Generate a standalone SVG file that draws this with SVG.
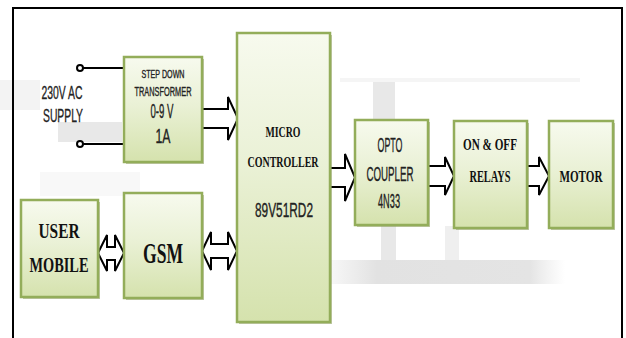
<svg xmlns="http://www.w3.org/2000/svg" width="626" height="338" viewBox="0 0 626 338">
<defs>
<linearGradient id="g" x1="0" y1="0" x2="0" y2="1">
<stop offset="0" stop-color="#f7faee"/>
<stop offset="0.45" stop-color="#eaf1d6"/>
<stop offset="1" stop-color="#d5e2ad"/>
</linearGradient>
<linearGradient id="wg" x1="0" y1="0" x2="1" y2="0">
<stop offset="0" stop-color="#e4e4e4" stop-opacity="0.3"/>
<stop offset="0.2" stop-color="#e2e2e2"/>
<stop offset="0.85" stop-color="#e4e4e4"/>
<stop offset="1" stop-color="#e8e8e8" stop-opacity="0"/>
</linearGradient>
<style>
.box{fill:url(#g);stroke:#93ad5a;stroke-width:2.5}
.sh{fill:#8c9c62;opacity:0.55}
.arr{fill:#fff;stroke:#000;stroke-width:2;stroke-linejoin:miter}
.wire{stroke:#000;stroke-width:2.2;fill:none}
.n{font-family:"Liberation Sans",Arial,sans-serif;fill:#222;stroke:#222;stroke-width:0.35}
.s{font-family:"Liberation Serif","Times New Roman",serif;font-weight:bold;fill:#111}
.wm{fill:#e8e8e8}
</style>
</defs>
<rect width="626" height="338" fill="#fff"/>
<g id="watermark">
<rect class="wm" x="58" y="122" width="64" height="20"/>
<rect class="wm" x="0" y="80" width="40" height="30" opacity="0.5"/>
<rect class="wm" x="40" y="172" width="100" height="24" opacity="0.3"/>
<rect x="330" y="260" width="235" height="24" fill="url(#wg)"/>
<rect class="wm" x="381" y="226" width="15" height="34"/>
<rect class="wm" x="445" y="226" width="14" height="34" opacity="0.7"/>
<rect class="wm" x="373" y="82" width="22" height="38"/>
<rect x="340" y="78" width="240" height="4" fill="#f5f5f5"/>
</g>
<rect x="13" y="8" width="609" height="340" fill="none" stroke="#000" stroke-width="2"/>
<g id="connectors">
<line class="wire" x1="83" y1="68" x2="124" y2="68"/>
<line class="wire" x1="83" y1="144" x2="124" y2="144"/>
<circle cx="80" cy="68" r="3" fill="#fff" stroke="#000" stroke-width="2"/>
<circle cx="80" cy="144" r="3" fill="#fff" stroke="#000" stroke-width="2"/>
<polyline class="arr" points="202,109 228,109 228,97 238,118.5 228,140 228,128 202,128"/>
<polyline class="arr" points="330,168 345,168 345,154 355,177.5 345,201 345,187 330,187"/>
<polyline class="arr" points="428,166 445,166 445,157 454,176 445,195 445,186 428,186"/>
<polyline class="arr" points="527,166 539,166 539,157 549,176 539,195 539,186 527,186"/>
<polygon class="arr" points="98,253 107,235 107,247 115,247 115,235 124,253 115,271 115,260 107,260 107,271"/>
<polygon class="arr" points="202,251 211,232 211,244 228,244 228,232 237,251 228,270 228,258 211,258 211,270"/>
</g>
<g id="supply">
<text class="n" x="62" y="99" font-size="19" text-anchor="middle" textLength="41" lengthAdjust="spacingAndGlyphs">230V AC</text>
<text class="n" x="63" y="122" font-size="19" text-anchor="middle" textLength="40" lengthAdjust="spacingAndGlyphs">SUPPLY</text>
</g>
<g id="transformer">
<rect class="sh" x="126" y="59" width="78" height="105"/>
<rect class="box" x="124" y="57" width="78" height="105"/>
<text class="n" x="163" y="78" font-size="11" text-anchor="middle" textLength="43" lengthAdjust="spacingAndGlyphs">STEP DOWN</text>
<text class="n" x="163" y="96" font-size="12.5" text-anchor="middle" textLength="57" lengthAdjust="spacingAndGlyphs">TRANSFORMER</text>
<text class="n" x="162" y="118" font-size="20" text-anchor="middle" textLength="23" lengthAdjust="spacingAndGlyphs">0-9 V</text>
<text class="n" x="163" y="143" font-size="21" text-anchor="middle" textLength="15" lengthAdjust="spacingAndGlyphs">1A</text>
</g>
<g id="micro">
<rect class="sh" x="239" y="35" width="93" height="289"/>
<rect class="box" x="237" y="33" width="93" height="289"/>
<text class="s" x="283" y="137" font-size="14" text-anchor="middle" textLength="35" lengthAdjust="spacingAndGlyphs">MICRO</text>
<text class="s" x="283" y="167" font-size="15" text-anchor="middle" textLength="71" lengthAdjust="spacingAndGlyphs">CONTROLLER</text>
<text class="n" x="284" y="217" font-size="20" text-anchor="middle" textLength="58" lengthAdjust="spacingAndGlyphs">89V51RD2</text>
</g>
<g id="opto">
<rect class="sh" x="357" y="122" width="73" height="105"/>
<rect class="box" x="355" y="120" width="73" height="105"/>
<text class="n" x="390" y="152" font-size="20" text-anchor="middle" textLength="25" lengthAdjust="spacingAndGlyphs">OPTO</text>
<text class="n" x="390" y="181" font-size="20" text-anchor="middle" textLength="47" lengthAdjust="spacingAndGlyphs">COUPLER</text>
<text class="n" x="389" y="208" font-size="20" text-anchor="middle" textLength="22" lengthAdjust="spacingAndGlyphs">4N33</text>
</g>
<g id="relays">
<rect class="sh" x="456" y="123" width="73" height="107"/>
<rect class="box" x="454" y="121" width="73" height="107"/>
<text class="s" x="490" y="150" font-size="17" font-weight="normal" text-anchor="middle" textLength="54" lengthAdjust="spacingAndGlyphs">ON &amp; OFF</text>
<text class="s" x="490" y="182" font-size="17" text-anchor="middle" textLength="41" lengthAdjust="spacingAndGlyphs">RELAYS</text>
</g>
<g id="motor">
<rect class="sh" x="551" y="123" width="64" height="107"/>
<rect class="box" x="549" y="121" width="64" height="107"/>
<text class="s" x="581" y="182" font-size="17" text-anchor="middle" textLength="43" lengthAdjust="spacingAndGlyphs">MOTOR</text>
</g>
<g id="user">
<rect class="sh" x="23" y="202" width="77" height="97"/>
<rect class="box" x="21" y="200" width="77" height="97"/>
<text class="s" x="59" y="238" font-size="21" text-anchor="middle" textLength="41" lengthAdjust="spacingAndGlyphs">USER</text>
<text class="s" x="59" y="272" font-size="22" text-anchor="middle" textLength="59" lengthAdjust="spacingAndGlyphs">MOBILE</text>
</g>
<g id="gsm">
<rect class="sh" x="126" y="195" width="78" height="105"/>
<rect class="box" x="124" y="193" width="78" height="105"/>
<text class="s" x="163" y="263" font-size="29" text-anchor="middle" textLength="40" lengthAdjust="spacingAndGlyphs">GSM</text>
</g>
</svg>
